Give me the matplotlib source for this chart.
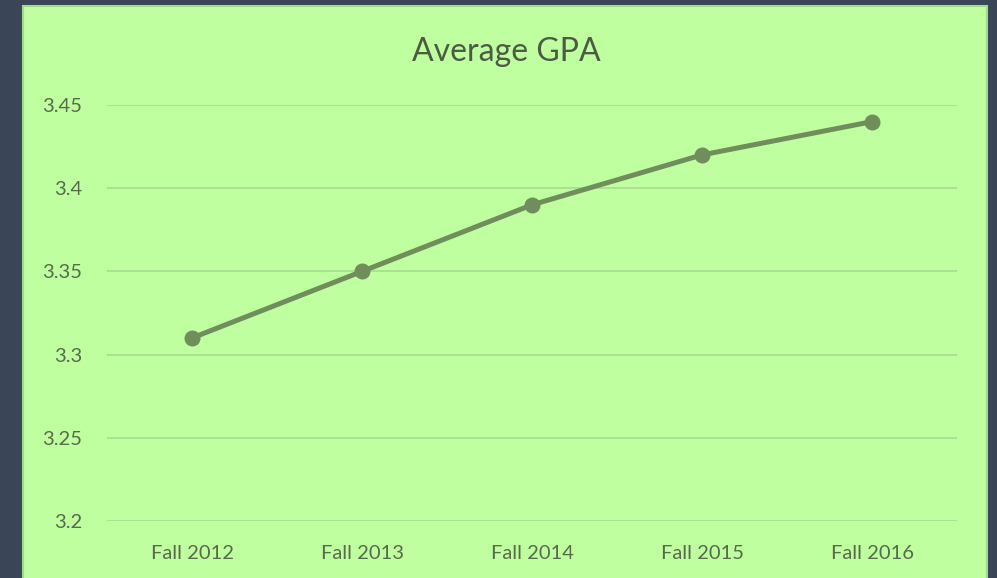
import matplotlib
matplotlib.use("Agg")
import matplotlib.pyplot as plt
from matplotlib.patches import Rectangle

categories = ["Fall 2012", "Fall 2013", "Fall 2014", "Fall 2015", "Fall 2016"]
gpa = [3.31, 3.35, 3.39, 3.42, 3.44]
yticks = [3.2, 3.25, 3.3, 3.35, 3.4, 3.45]
ytick_labels = ["3.2", "3.25", "3.3", "3.35", "3.4", "3.45"]

W, H = 997, 578
fig = plt.figure(figsize=(W / 100, H / 100), dpi=100)
fig.patch.set_facecolor("#3a4557")

bg = fig.add_axes([0, 0, 1, 1], zorder=-5)
bg.set_xlim(0, W)
bg.set_ylim(H, 0)
bg.axis("off")
bg.add_patch(Rectangle((23, 6), 987 - 23, H, facecolor="#c0ffa0",
                       edgecolor="#a3d98c", linewidth=1.5))

ax = fig.add_axes([107 / W, (H - 521) / H, (957 - 107) / W, (521 - 105) / H], zorder=1)
ax.set_facecolor("none")
x = list(range(len(categories)))
ax.plot(x, gpa, color="#6f8e5b", linewidth=3.6, marker="o", markersize=10.5,
        solid_capstyle="round", zorder=3)
ax.set_xlim(-0.5, len(categories) - 0.5)
ax.set_ylim(3.2, 3.45)
ax.set_yticks(yticks)
ax.set_yticklabels(ytick_labels)
ax.set_xticks(x)
ax.set_xticklabels(categories)
for s in ax.spines.values():
    s.set_visible(False)
ax.grid(axis="y", color="#a6d98f", linewidth=1.1)
ax.set_axisbelow(True)
ax.tick_params(length=0, labelsize=14.5, labelcolor="#566b4c")
ax.tick_params(axis="y", pad=18)
ax.tick_params(axis="x", pad=17)
for lab in ax.get_xticklabels() + ax.get_yticklabels():
    lab.set_fontfamily("Lato")

fig.text(506 / W, (H - 52) / H, "Average GPA", ha="center", va="center",
         fontsize=23, color="#4b5c43", fontfamily="Lato")

fig.savefig("out.png", dpi=100, facecolor=fig.get_facecolor())
